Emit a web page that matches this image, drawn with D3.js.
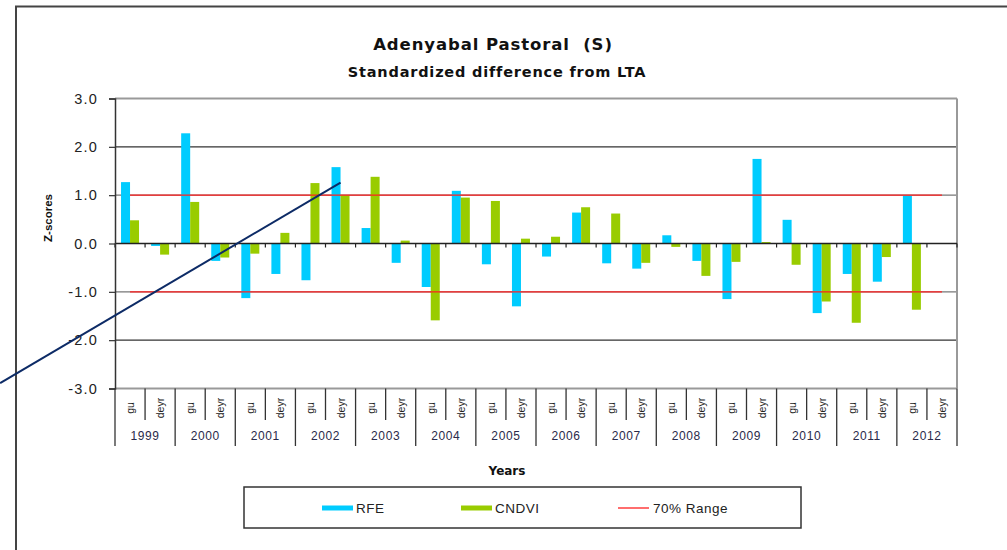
<!DOCTYPE html>
<html>
<head>
<meta charset="utf-8">
<script src="https://cdn.jsdelivr.net/npm/d3@7"></script>
<style>
  body { margin: 0; background: #fff; }
  svg { display: block; font-family: "Liberation Sans", Arial, sans-serif; }
</style>
</head>
<body>
<div id="chart"></div>
<script>
// data
const years = ["1999","2000","2001","2002","2003","2004","2005","2006","2007","2008","2009","2010","2011","2012"];
const seasons = ["gu", "deyr"];
const rfe = [1.27, -0.05, 2.28, -0.36, -1.13, -0.63, -0.76, 1.58, 0.32, -0.40, -0.90, 1.09, -0.43, -1.30,
             -0.27, 0.64, -0.41, -0.52, 0.17, -0.36, -1.15, 1.75, 0.49, -1.44, -0.63, -0.79, 0.99, null];
const cndvi = [0.48, -0.23, 0.86, -0.29, -0.21, 0.22, 1.25, 1.00, 1.38, 0.06, -1.59, 0.95, 0.88, 0.10,
               0.14, 0.75, 0.62, -0.40, -0.07, -0.67, -0.38, 0.03, -0.44, -1.20, -1.64, -0.28, -1.37, null];
const rangeBounds = [1.0, -1.0];
const yTicks = [-3, -2, -1, 0, 1, 2, 3];
// stray pen stroke over the chart (slot position, z-score)
const annotation = [{ slot: -3.82, z: -2.89 }, { slot: 7.5, z: 1.26 }];

document.addEventListener('DOMContentLoaded', function () {
    const width = 1007, height = 550;
    const left = 115, right = 957, top = 98.5, bottom = 388.5;
    const wide = '"DejaVu Sans", Verdana, sans-serif';

    const cats = [];
    years.forEach(y => seasons.forEach(s => cats.push({ year: y, season: s })));
    cats.forEach((c, i) => { c.i = i; c.rfe = rfe[i]; c.cndvi = cndvi[i]; });

    const svg = d3.select("#chart").append("svg")
        .attr("width", width).attr("height", height);

    // outer frame
    svg.append("path")
        .attr("d", "M16," + (height + 5) + "V6.5H" + (width + 5))
        .attr("fill", "none").attr("stroke", "#444").attr("stroke-width", 2);

    const x = d3.scaleBand().domain(d3.range(cats.length)).range([left, right]).padding(0);
    const xs = d3.scaleBand().domain(["rfe", "cndvi"]).range([0, x.bandwidth()]).paddingOuter(0.67);
    const xPos = d3.scaleLinear().domain([0, cats.length]).range([left, right]);
    const y = d3.scaleLinear().domain([-3, 3]).range([bottom, top]);

    // grid
    svg.append("g").selectAll("line")
        .data(yTicks.filter(d => d !== 0))
        .join("line")
        .attr("x1", left).attr("x2", right)
        .attr("y1", d => y(d)).attr("y2", d => y(d))
        .attr("stroke", d => Math.abs(d) === 3 ? "#999" : (Math.abs(d) === 2 ? "#333" : "#777"))
        .attr("stroke-width", d => Math.abs(d) === 3 ? 2 : 1.3);

    svg.append("line")
        .attr("x1", right).attr("x2", right).attr("y1", top).attr("y2", bottom)
        .attr("stroke", "#999").attr("stroke-width", 2);

    // bars
    const colors = { rfe: "#00CCFF", cndvi: "#99CC00" };
    ["rfe", "cndvi"].forEach(key => {
        svg.append("g").selectAll("rect")
            .data(cats.filter(c => c[key] !== null))
            .join("rect")
            .attr("x", d => x(d.i) + xs(key))
            .attr("width", xs.bandwidth())
            .attr("y", d => y(Math.max(0, d[key])))
            .attr("height", d => Math.abs(y(d[key]) - y(0)))
            .attr("fill", colors[key]);
    });

    // 70% range lines
    svg.append("g").selectAll("line")
        .data(rangeBounds)
        .join("line")
        .attr("x1", x(0) + x.bandwidth() / 2)
        .attr("x2", x(cats.length - 1) + x.bandwidth() / 2)
        .attr("y1", d => y(d)).attr("y2", d => y(d))
        .attr("stroke", "#FF2020").attr("stroke-width", 1.3);

    // zero line with ticks
    svg.append("line")
        .attr("x1", left).attr("x2", right).attr("y1", y(0)).attr("y2", y(0))
        .attr("stroke", "#222").attr("stroke-width", 1.5);
    svg.append("g").selectAll("line")
        .data(d3.range(cats.length + 1))
        .join("line")
        .attr("x1", d => xPos(d)).attr("x2", d => xPos(d))
        .attr("y1", y(0)).attr("y2", y(0) + 4)
        .attr("stroke", "#222").attr("stroke-width", 1.2);

    // y axis
    const yAxis = svg.append("g")
        .attr("transform", "translate(" + left + ",0)")
        .call(d3.axisLeft(y).tickValues(yTicks).tickFormat(d3.format(".1f")).tickSize(6).tickPadding(11));
    yAxis.select(".domain").attr("stroke", "#333").attr("stroke-width", 1.5);
    yAxis.selectAll(".tick line").attr("stroke", "#333").attr("stroke-width", 1.2);
    yAxis.selectAll(".tick text").attr("font-size", 14.5).attr("fill", "#222")
        .attr("letter-spacing", 1.2)
        .text(d => d3.format(".1f")(d).replace("−", "-"));

    svg.append("text")
        .attr("transform", "translate(52,218) rotate(-90)")
        .attr("text-anchor", "middle")
        .attr("font-weight", "bold").attr("font-size", 11.5)
        .attr("fill", "#111")
        .text("Z-scores");

    // category axis
    svg.append("g").selectAll("line")
        .data(d3.range(cats.length + 1))
        .join("line")
        .attr("x1", d => xPos(d)).attr("x2", d => xPos(d))
        .attr("y1", bottom).attr("y2", d => d % 2 === 0 ? 446 : 420)
        .attr("stroke", "#333").attr("stroke-width", 1.3);

    svg.append("g").selectAll("text")
        .data(cats)
        .join("text")
        .attr("transform", d => "translate(" + (x(d.i) + x.bandwidth() / 2 + 4) + ",408) rotate(-90)")
        .attr("text-anchor", "middle")
        .attr("font-size", 10.5).attr("fill", "#222")
        .text(d => d.season);

    svg.append("g").selectAll("text")
        .data(years)
        .join("text")
        .attr("x", (d, i) => xPos(i * 2 + 1))
        .attr("y", 440)
        .attr("text-anchor", "middle")
        .attr("font-size", 12).attr("letter-spacing", 0.6).attr("fill", "#2a2a4a")
        .text(d => d);

    // annotation stroke
    svg.append("line")
        .attr("x1", xPos(annotation[0].slot)).attr("y1", y(annotation[0].z))
        .attr("x2", xPos(annotation[1].slot)).attr("y2", y(annotation[1].z))
        .attr("stroke", "#0D2B66").attr("stroke-width", 2);

    // titles
    svg.append("text").attr("x", 493).attr("y", 50)
        .attr("text-anchor", "middle").attr("font-weight", "bold").attr("font-size", 16.5)
        .attr("letter-spacing", 0.9)
        .attr("font-family", wide)
        .attr("fill", "#111").text("Adenyabal Pastoral  (S)")
        .style("white-space", "pre");
    svg.append("text").attr("x", 497).attr("y", 77)
        .attr("text-anchor", "middle").attr("font-weight", "bold").attr("font-size", 14.5)
        .attr("letter-spacing", 0.8)
        .attr("font-family", wide)
        .attr("fill", "#111").text("Standardized difference from LTA");
    svg.append("text").attr("x", 507).attr("y", 475)
        .attr("text-anchor", "middle").attr("font-weight", "bold").attr("font-size", 12)
        .attr("font-family", wide)
        .attr("fill", "#111").text("Years");

    // legend
    const legend = svg.append("g");
    legend.append("rect")
        .attr("x", 244).attr("y", 487).attr("width", 557).attr("height", 41)
        .attr("fill", "#fff").attr("stroke", "#333").attr("stroke-width", 1.5);
    const items = [
        { label: "RFE", color: colors.rfe, w: 5, x0: 322 },
        { label: "CNDVI", color: colors.cndvi, w: 5, x0: 461 },
        { label: "70% Range", color: "#FF2020", w: 1.3, x0: 618 }
    ];
    const li = legend.selectAll("g").data(items).join("g")
        .attr("transform", d => "translate(" + d.x0 + ",508)");
    li.append("line").attr("x1", 0).attr("x2", 31).attr("y1", 0).attr("y2", 0)
        .attr("stroke", d => d.color).attr("stroke-width", d => d.w);
    li.append("text").attr("x", d => d.label === "70% Range" ? 35 : 34).attr("y", 5)
        .attr("font-size", 13.5).attr("letter-spacing", 0.5).attr("fill", "#222").text(d => d.label);
});
</script>
</body>
</html>
